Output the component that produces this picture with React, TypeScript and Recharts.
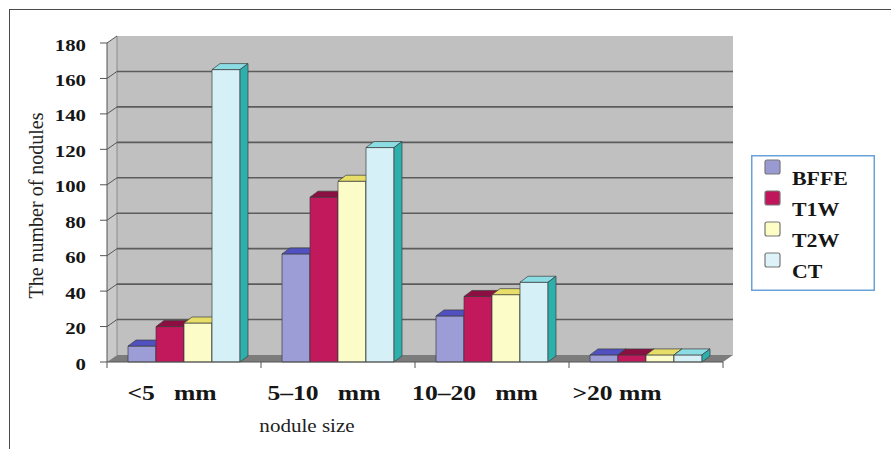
import { Bar, BarChart, CartesianGrid, Legend, XAxis, YAxis } from "recharts";

const categories = ["<5 mm", "5–10 mm", "10–20 mm", ">20 mm"];
const tickLabels = [
  "<5\u00a0\u00a0\u00a0mm",
  "5–10\u00a0\u00a0\u00a0mm",
  "10–20\u00a0\u00a0\u00a0mm",
  ">20\u00a0mm",
];
const bffe = [9, 61, 26, 4];
const t1w = [20, 93, 37, 4];
const t2w = [22, 102, 38, 4];
const ct = [165, 121, 45, 4];
const yTicks = [0, 20, 40, 60, 80, 100, 120, 140, 160, 180];

const SERIES = [
  { name: "BFFE", values: bffe, front: "#9c9cd6", top: "#5050c0", side: "#6a6ab4", swatch: "#9a9ad2" },
  { name: "T1W", values: t1w, front: "#c2185c", top: "#8c0f42", side: "#7c0c38", swatch: "#c0155a" },
  { name: "T2W", values: t2w, front: "#fcfcc8", top: "#e6de68", side: "#c8c480", swatch: "#fdfdc6" },
  { name: "CT", values: ct, front: "#d6f0f8", top: "#8cdce4", side: "#2db0ac", swatch: "#ddf3f9" },
];

const data = categories.map((name, i) => {
  const row: Record<string, string | number> = { name };
  SERIES.forEach((s) => (row[s.name] = s.values[i]));
  return row;
});

// layout
const W = 891;
const H = 449;
const PLOT_TOP = 43;
const PLOT_LEFT = 107;
const PLOT_RIGHT = 723;
const PLOT_BOTTOM = 362;
const BAND = (PLOT_RIGHT - PLOT_LEFT) / categories.length;
const WALL_DX = 10;
const WALL_DY = 7;
const BAR_DX = 8;
const BAR_DY = 6;
const LABEL_SHIFT = [-12, -14, -17, -29];
const FONT = '"Liberation Serif", "Times New Roman", serif';
const INK = "#161616";

const Bar3D = (props: any) => {
  const { x, y, width, height, colors } = props;
  if (!height || height <= 0) return null;
  const r = x + width;
  const b = y + height;
  return (
    <g stroke="#3c3c3c" strokeWidth={0.7} strokeLinejoin="round">
      <rect x={x} y={y} width={width} height={height} fill={colors.front} />
      <polygon
        points={`${x},${y} ${x + BAR_DX},${y - BAR_DY} ${r + BAR_DX},${y - BAR_DY} ${r},${y}`}
        fill={colors.top}
      />
      <polygon
        points={`${r},${y} ${r + BAR_DX},${y - BAR_DY} ${r + BAR_DX},${b - BAR_DY} ${r},${b}`}
        fill={colors.side}
      />
    </g>
  );
};

const gridLine = (p: any) => {
  const { x1, x2, y1, index } = p;
  const backTop = PLOT_TOP - WALL_DY;
  const backBottom = PLOT_BOTTOM - WALL_DY;
  return (
    <g key={`grid-${index}`}>
      {index === 0 && (
        <>
          <rect
            x={x1 + WALL_DX}
            y={backTop}
            width={x2 - x1}
            height={backBottom - backTop}
            fill="#c0c0c0"
          />
          <polygon
            points={`${x1},${PLOT_TOP} ${x1 + WALL_DX},${backTop} ${x1 + WALL_DX},${backBottom} ${x1},${PLOT_BOTTOM}`}
            fill="#c9c9c9"
          />
          <line
            x1={x1 + WALL_DX}
            y1={backTop}
            x2={x1 + WALL_DX}
            y2={backBottom}
            stroke="#8a8a8a"
          />
          <polygon
            points={`${x1},${PLOT_BOTTOM} ${x1 + WALL_DX},${backBottom} ${x2 + WALL_DX},${backBottom} ${x2},${PLOT_BOTTOM}`}
            fill="#7c7c7c"
          />
        </>
      )}
      {y1 < PLOT_BOTTOM - 1 && (
        <line
          x1={x1}
          y1={y1}
          x2={x1 + WALL_DX}
          y2={y1 - WALL_DY}
          stroke="#555"
          strokeWidth={1}
        />
      )}
      {y1 < PLOT_BOTTOM - 1 && y1 > PLOT_TOP + 1 && (
        <line
          x1={x1 + WALL_DX}
          y1={y1 - WALL_DY}
          x2={x2 + WALL_DX}
          y2={y1 - WALL_DY}
          stroke="#5c5c5c"
          strokeWidth={1.6}
        />
      )}
    </g>
  );
};

const XTick = (props: any) => {
  const { x, y, payload } = props;
  const i = categories.indexOf(payload.value);
  const half = BAND / 2;
  return (
    <g>
      {i === 0 && <line x1={x - half} y1={y} x2={x - half} y2={y + 6} stroke="#555" />}
      <line x1={x + half} y1={y} x2={x + half} y2={y + 6} stroke="#555" />
      <text
        transform={`translate(${x + LABEL_SHIFT[i]},${y + 38}) scale(1.22,1)`}
        textAnchor="middle"
        fontFamily={FONT}
        fontWeight="bold"
        fontSize={21}
        fill={INK}
      >
        {tickLabels[i]}
      </text>
    </g>
  );
};

const YTick = (props: any) => {
  const { x, y, payload } = props;
  return (
    <text
      transform={`translate(${x},${y + 7.5}) scale(1.3,1)`}
      textAnchor="end"
      fontFamily={FONT}
      fontWeight="bold"
      fontSize={16}
      fill={INK}
    >
      {payload.value}
    </text>
  );
};

const YTitle = (props: any) => {
  const { viewBox } = props;
  const cx = viewBox.x + 43;
  const cy = viewBox.y + viewBox.height / 2 + 3;
  return (
    <text
      x={cx}
      y={cy}
      transform={`rotate(-90, ${cx}, ${cy})`}
      textAnchor="middle"
      fontFamily={FONT}
      fontSize={20}
      fill="#222"
    >
      The number of nodules
    </text>
  );
};

const XTitle = (props: any) => {
  const { viewBox } = props;
  return (
    <text
      transform={`translate(${viewBox.x + 200},${viewBox.y + 70}) scale(1.17,1)`}
      textAnchor="middle"
      fontFamily={FONT}
      fontSize={18}
      fill="#222"
    >
      nodule size
    </text>
  );
};

const LegendBox = (props: any) => {
  const items = (props.payload ?? []) as { value: string }[];
  // keep the series order, not the legend's alphabetical sort
  const ordered = SERIES.filter((s) => items.some((it) => it.value === s.name));
  return (
    <svg width={124} height={136} style={{ display: "block" }}>
      <rect x={0.75} y={0.75} width={122.5} height={134.5} fill="#fff" stroke="#6aa2d8" strokeWidth={1.5} />
      {ordered.map((s, i) => (
        <g key={s.name}>
          <rect
            x={14}
            y={5 + i * 31}
            width={15}
            height={14}
            rx={2}
            fill={s.swatch}
            stroke="#777"
            strokeWidth={1.2}
          />
          <text
            transform={`translate(41,${30 + i * 31}) scale(1.15,1)`}
            fontFamily={FONT}
            fontWeight="bold"
            fontSize={19}
            fill={INK}
          >
            {s.name}
          </text>
        </g>
      ))}
    </svg>
  );
};

export default function App() {
  return (
    <div style={{ position: "absolute", left: 0, top: 0, width: W, height: H, background: "#fff" }}>
      <div
        style={{
          position: "absolute",
          left: 9,
          top: 9,
          right: 0,
          bottom: 0,
          borderTop: "1.5px solid #4a4a4a",
          borderLeft: "1.5px solid #4a4a4a",
        }}
      />
      <BarChart
        width={W}
        height={H}
        data={data}
        margin={{ top: PLOT_TOP, right: W - PLOT_RIGHT, bottom: 0, left: 0 }}
        barGap={0}
        barSize={28}
      >
        <CartesianGrid vertical={false} horizontal={gridLine} stroke="#5c5c5c" />
        <XAxis
          dataKey="name"
          height={H - PLOT_BOTTOM}
          interval={0}
          tickLine={false}
          tickSize={0}
          tickMargin={0}
          axisLine={{ stroke: "#555" }}
          tick={<XTick />}
          label={(p: any) => <XTitle {...p} />}
        />
        <YAxis
          width={PLOT_LEFT}
          type="number"
          domain={[0, 180]}
          ticks={yTicks}
          interval={0}
          tickSize={7}
          tickMargin={14}
          tickLine={{ stroke: "#555" }}
          axisLine={{ stroke: "#555" }}
          tick={<YTick />}
          label={(p: any) => <YTitle {...p} />}
        />
        {SERIES.map((s) => (
          <Bar
            key={s.name}
            dataKey={s.name}
            name={s.name}
            fill={s.swatch}
            isAnimationActive={false}
            shape={(p: any) => <Bar3D {...p} colors={s} />}
          />
        ))}
        <Legend
          layout="vertical"
          align="center"
          verticalAlign="middle"
          wrapperStyle={{ left: 751, top: 155, width: 124 }}
          content={<LegendBox />}
        />
      </BarChart>
    </div>
  );
}
